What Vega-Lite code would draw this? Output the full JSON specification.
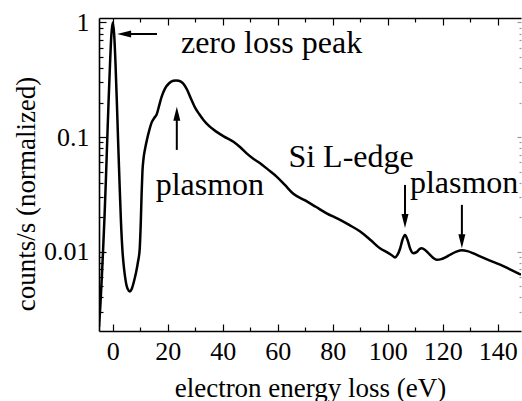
{
  "$schema": "https://vega.github.io/schema/vega-lite/v6.json",
  "autosize": {"type": "none"},
  "padding": {"left": 99, "top": 18, "right": 1, "bottom": 70},
  "width": 422,
  "height": 313,
  "datasets": {
    "curve": [
      {"v": -5, "c": 0.0022}, {"v": -4.5, "c": 0.0034}, {"v": -4, "c": 0.0058}, {"v": -3.5, "c": 0.0105},
      {"v": -3, "c": 0.02}, {"v": -2.5, "c": 0.042}, {"v": -2, "c": 0.095}, {"v": -1.5, "c": 0.21},
      {"v": -1, "c": 0.43}, {"v": -0.5, "c": 0.78}, {"v": 0, "c": 1.0}, {"v": 0.5, "c": 0.8},
      {"v": 1, "c": 0.44}, {"v": 1.5, "c": 0.2}, {"v": 2, "c": 0.085}, {"v": 2.5, "c": 0.038},
      {"v": 3, "c": 0.018}, {"v": 3.5, "c": 0.0105}, {"v": 4, "c": 0.0075}, {"v": 4.5, "c": 0.006},
      {"v": 5, "c": 0.0051}, {"v": 5.5, "c": 0.0047}, {"v": 6.2, "c": 0.0045}, {"v": 7, "c": 0.0048},
      {"v": 7.8, "c": 0.0056}, {"v": 8.5, "c": 0.0066}, {"v": 9.2, "c": 0.0082}, {"v": 9.8, "c": 0.0105},
      {"v": 10.2, "c": 0.018}, {"v": 10.5, "c": 0.032}, {"v": 10.8, "c": 0.05}, {"v": 11.2, "c": 0.065},
      {"v": 11.8, "c": 0.08}, {"v": 12.5, "c": 0.096}, {"v": 13.3, "c": 0.115}, {"v": 14.2, "c": 0.135},
      {"v": 15.2, "c": 0.148}, {"v": 16.0, "c": 0.158}, {"v": 16.8, "c": 0.185}, {"v": 17.8, "c": 0.225},
      {"v": 19, "c": 0.265}, {"v": 20.5, "c": 0.295}, {"v": 22, "c": 0.31}, {"v": 23, "c": 0.312},
      {"v": 24, "c": 0.31}, {"v": 25.5, "c": 0.295}, {"v": 27, "c": 0.26}, {"v": 28.5, "c": 0.215},
      {"v": 30, "c": 0.18}, {"v": 31.5, "c": 0.158}, {"v": 33, "c": 0.141}, {"v": 35, "c": 0.125},
      {"v": 37.8, "c": 0.111}, {"v": 40.5, "c": 0.101}, {"v": 43.9, "c": 0.091}, {"v": 46.5, "c": 0.081},
      {"v": 48.7, "c": 0.072}, {"v": 51, "c": 0.065}, {"v": 53.6, "c": 0.059}, {"v": 56.5, "c": 0.052},
      {"v": 59.7, "c": 0.045}, {"v": 62.7, "c": 0.038}, {"v": 65.7, "c": 0.032}, {"v": 70, "c": 0.028},
      {"v": 74, "c": 0.0245}, {"v": 77.8, "c": 0.0216}, {"v": 82, "c": 0.0193}, {"v": 86, "c": 0.0171},
      {"v": 90, "c": 0.015}, {"v": 94, "c": 0.0125}, {"v": 97.2, "c": 0.0107}, {"v": 100, "c": 0.0098},
      {"v": 101.5, "c": 0.0093}, {"v": 102.7, "c": 0.0089}, {"v": 103.6, "c": 0.0094}, {"v": 104.5, "c": 0.0106},
      {"v": 105.4, "c": 0.0127}, {"v": 106.3, "c": 0.014}, {"v": 107.2, "c": 0.0127}, {"v": 108.2, "c": 0.0106},
      {"v": 109.3, "c": 0.0097}, {"v": 110.5, "c": 0.0099}, {"v": 111.5, "c": 0.0105}, {"v": 112.4, "c": 0.0107},
      {"v": 113.5, "c": 0.0104}, {"v": 114.8, "c": 0.0097}, {"v": 116.4, "c": 0.0089}, {"v": 117.9, "c": 0.0085},
      {"v": 119.5, "c": 0.0086}, {"v": 121, "c": 0.0089}, {"v": 122.7, "c": 0.0094}, {"v": 125, "c": 0.01},
      {"v": 127, "c": 0.0103}, {"v": 129, "c": 0.0101}, {"v": 131, "c": 0.0097}, {"v": 133.6, "c": 0.0091},
      {"v": 137, "c": 0.0084}, {"v": 140.9, "c": 0.0077}, {"v": 144.5, "c": 0.007}, {"v": 148.5, "c": 0.0063}
    ],
    "shafts": [
      {"x": 16.1, "x2": 4.5, "y": 0.794, "y2": 0.794},
      {"x": 23.3, "x2": 23.3, "y": 0.0772, "y2": 0.15},
      {"x": 106.3, "x2": 106.3, "y": 0.0382, "y2": 0.02},
      {"x": 127.0, "x2": 127.0, "y": 0.0256, "y2": 0.014}
    ],
    "heads": [
      {"x": 1.6, "y": 0.794, "dir": "left"},
      {"x": 23.3, "y": 0.184, "dir": "up"},
      {"x": 106.3, "y": 0.0161, "dir": "down"},
      {"x": 127.0, "y": 0.0107, "dir": "down"}
    ],
    "labels": [
      {"label": "zero loss peak", "x": 24.8, "y": 0.5364},
      {"label": "plasmon", "x": 15.6, "y": 0.03126},
      {"label": "Si L-edge", "x": 63.9, "y": 0.0552},
      {"label": "plasmon", "x": 108.1, "y": 0.0323}
    ]
  },
  "layer": [
    {
      "data": {"name": "curve"},
      "mark": {"type": "line", "color": "black", "strokeWidth": 2.5, "interpolate": "monotone", "clip": true},
      "encoding": {
        "x": {
          "field": "v", "type": "quantitative",
          "scale": {"domain": [-5, 148.5], "nice": false, "zero": false},
          "axis": {
            "orient": "bottom",
            "values": [0, 10, 20, 30, 40, 50, 60, 70, 80, 90, 100, 110, 120, 130, 140],
            "labelExpr": "datum.value % 20 === 0 ? datum.label : ''",
            "tickSize": {"condition": {"test": "datum.value % 20 === 0", "value": -7}, "value": -4},
            "labelPadding": 14,
            "title": "electron energy loss (eV)",
            "titleX": 211, "titleY": 65, "titleBaseline": "alphabetic", "titleAlign": "center"
          }
        },
        "y": {
          "field": "c", "type": "quantitative",
          "scale": {"type": "log", "domain": [0.00203, 1.094], "nice": false},
          "axis": {
            "orient": "left",
            "values": [0.003, 0.004, 0.005, 0.006, 0.007, 0.008, 0.009, 0.01, 0.02, 0.03, 0.04, 0.05, 0.06, 0.07, 0.08, 0.09, 0.1, 0.2, 0.3, 0.4, 0.5, 0.6, 0.7, 0.8, 0.9, 1],
            "labelExpr": "datum.value === 1 ? '1' : datum.value === 0.1 ? '0.1' : datum.value === 0.01 ? '0.01' : ''",
            "tickSize": {"condition": {"test": "datum.value === 1 || datum.value === 0.1 || datum.value === 0.01", "value": -7}, "value": -4},
            "labelPadding": 17,
            "title": "counts/s (normalized)",
            "titleX": -65, "titleY": 175.5, "titleBaseline": "alphabetic", "titleAlign": "center", "titleAngle": 270
          }
        }
      }
    },
    {
      "data": {"name": "shafts"},
      "mark": {"type": "rule", "color": "black", "strokeWidth": 2},
      "encoding": {
        "x": {
          "field": "x", "type": "quantitative",
          "scale": {"domain": [-5, 148.5], "nice": false, "zero": false},
          "axis": {
            "orient": "top",
            "values": [0, 10, 20, 30, 40, 50, 60, 70, 80, 90, 100, 110, 120, 130, 140],
            "labels": false,
            "tickSize": {"condition": {"test": "datum.value % 20 === 0", "value": -7}, "value": -4},
            "title": null
          }
        },
        "x2": {"field": "x2"},
        "y": {
          "field": "y", "type": "quantitative",
          "scale": {"type": "log", "domain": [0.00203, 1.094], "nice": false},
          "axis": {
            "orient": "right",
            "values": [0.003, 0.004, 0.005, 0.006, 0.007, 0.008, 0.009, 0.01, 0.02, 0.03, 0.04, 0.05, 0.06, 0.07, 0.08, 0.09, 0.1, 0.2, 0.3, 0.4, 0.5, 0.6, 0.7, 0.8, 0.9, 1],
            "labels": false,
            "domain": false,
            "tickColor": "#999999",
            "tickSize": {"condition": {"test": "datum.value === 1 || datum.value === 0.1 || datum.value === 0.01", "value": -4}, "value": -2},
            "title": null
          }
        },
        "y2": {"field": "y2"}
      }
    },
    {
      "data": {"name": "heads"},
      "mark": {"type": "point", "filled": true, "opacity": 1, "size": 196, "color": "black", "strokeWidth": 0},
      "encoding": {
        "x": {"field": "x", "type": "quantitative", "scale": {"domain": [-5, 148.5], "nice": false, "zero": false}, "axis": null},
        "y": {"field": "y", "type": "quantitative", "scale": {"type": "log", "domain": [0.00203, 1.094], "nice": false}, "axis": null},
        "shape": {
          "field": "dir", "type": "nominal", "legend": null,
          "scale": {"domain": ["up", "down", "left"], "range": ["M0,0L-0.5,2L0.5,2Z", "M0,0L-0.5,-2L0.5,-2Z", "M0,0L2,-0.5L2,0.5Z"]}
        }
      }
    },
    {
      "data": {"name": "labels"},
      "mark": {"type": "text", "align": "left", "baseline": "alphabetic", "font": "'Liberation Serif', 'DejaVu Serif', serif", "fontSize": 32, "color": "black"},
      "encoding": {
        "x": {"field": "x", "type": "quantitative", "scale": {"domain": [-5, 148.5], "nice": false, "zero": false}, "axis": null},
        "y": {"field": "y", "type": "quantitative", "scale": {"type": "log", "domain": [0.00203, 1.094], "nice": false}, "axis": null},
        "text": {"field": "label"}
      }
    }
  ],
  "resolve": {"axis": {"x": "independent", "y": "independent"}},
  "config": {
    "font": "'Liberation Serif', 'DejaVu Serif', serif",
    "view": {"stroke": null},
    "axis": {
      "grid": false,
      "domainColor": "black",
      "domainWidth": 1.6,
      "tickColor": "black",
      "tickWidth": 1.2,
      "labelColor": "black",
      "labelFont": "'Liberation Serif', 'DejaVu Serif', serif",
      "labelFontSize": 26,
      "titleColor": "black",
      "titleFont": "'Liberation Serif', 'DejaVu Serif', serif",
      "titleFontSize": 27,
      "titleFontWeight": "normal",
      "labelFlush": false,
      "labelOverlap": false,
      "labelBound": false
    }
  }
}
